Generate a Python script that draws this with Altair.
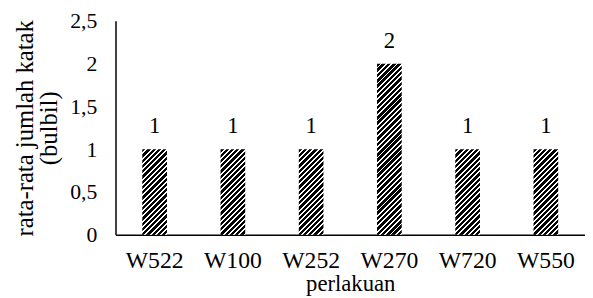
import altair as alt
import pandas as pd

categories = ["W522", "W100", "W252", "W270", "W720", "W550"]
values = [1, 1, 1, 2, 1, 1]
y_ticks = [0, 0.5, 1, 1.5, 2, 2.5]

df = pd.DataFrame({"perlakuan": categories, "nilai": values})

PLOT_W = 476
PLOT_H = 217
BAR_W = 25
Y_MAX = 2.5
FONT = "Liberation Serif"


def hatch(value, period=5.4, black=0.65):
    """Diagonal '/' stripes built from a linear gradient with hard stops."""
    w = BAR_W
    h = value / Y_MAX * PLOT_H
    a = w / h
    s = (a + 1) / (a * a + 1)
    n = max(1, round((w + h) / period))
    stops = []
    for k in range(n):
        t0 = k / n
        tm = (k + black) / n
        t1 = (k + 1) / n
        stops += [
            {"offset": t0, "color": "#000000"},
            {"offset": tm, "color": "#000000"},
            {"offset": tm, "color": "#ffffff"},
            {"offset": t1, "color": "#ffffff"},
        ]
    return {"gradient": "linear", "x1": 0, "y1": 0, "x2": a * s, "y2": s, "stops": stops}


x_enc = alt.X(
    "perlakuan:N",
    sort=categories,
    scale=alt.Scale(paddingInner=0, paddingOuter=0),
    axis=alt.Axis(
        title="perlakuan",
        labelAngle=0,
        labelFont=FONT,
        labelFontSize=24,
        labelColor="#000000",
        labelPadding=14,
        ticks=False,
        domainColor="#000000",
        domainWidth=1.5,
        titleFont=FONT,
        titleFontSize=23,
        titleFontWeight="normal",
        titleColor="#000000",
        titlePadding=0,
    ),
)
y_enc = alt.Y(
    "nilai:Q",
    scale=alt.Scale(domain=[0, Y_MAX], nice=False),
    axis=alt.Axis(
        title=["rata-rata jumlah  katak", "(bulbil)"],
        values=y_ticks,
        labelExpr="replace(toString(datum.value), '.', ',')",
        labelFont=FONT,
        labelFontSize=22,
        labelColor="#000000",
        labelPadding=19,
        ticks=False,
        grid=False,
        domainColor="#000000",
        domainWidth=1.5,
        titleFont=FONT,
        titleFontSize=25,
        titleFontWeight="normal",
        titleColor="#000000",
        titleLineHeight=25,
        titlePadding=8,
    ),
)

base = alt.Chart(df).encode(x=x_enc, y=y_enc)

bars1 = base.transform_filter("datum.nilai == 1").mark_bar(size=BAR_W, fill=hatch(1), stroke=None)
bars2 = base.transform_filter("datum.nilai == 2").mark_bar(size=BAR_W, fill=hatch(2), stroke=None)
labels = base.mark_text(
    font=FONT, fontSize=23, color="#000000", baseline="alphabetic", dy=-16
).encode(text="nilai:Q")

chart = (
    alt.layer(bars1, bars2, labels)
    .properties(
        width=PLOT_W,
        height=PLOT_H,
        autosize=alt.AutoSizeParams(type="none"),
        padding={"left": 109, "top": 11, "right": 0, "bottom": 62},
        background="#ffffff",
    )
    .configure_view(stroke=None)
)

chart.save("out.html", embed_options={"renderer": "svg", "actions": False})
